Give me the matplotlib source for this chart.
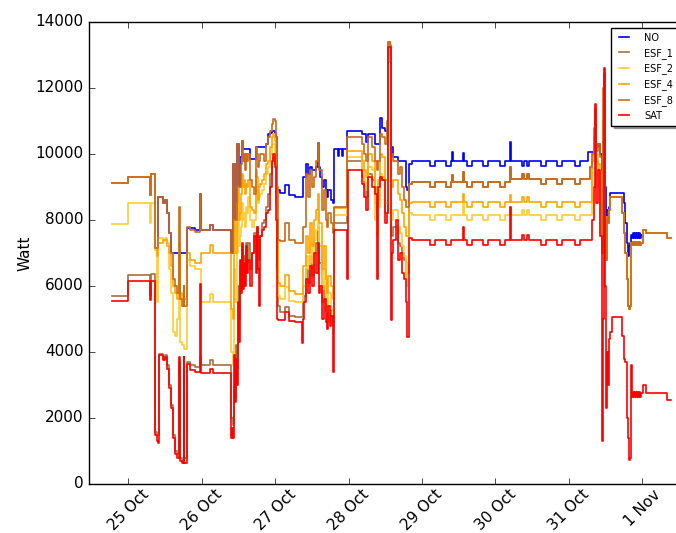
from datetime import datetime

import numpy as np
import matplotlib
matplotlib.use("Agg")
import matplotlib.dates as mdates
from matplotlib import pyplot as plt

# hours after 25 Oct 00:00, each value holds until the next time stamp
hours = [
    -5.4, -0.2, 7.0, 7.3, 8.8, 9.2, 9.7, 10.1, 11.3, 11.9,
    12.6, 13.2, 13.9, 14.6, 15.2, 15.9, 16.4, 16.7, 17.5, 18.0,
    18.3, 19.0, 20.1, 21.8, 23.4, 23.7, 26.5, 27.6, 33.4, 33.9,
    34.2, 34.5, 34.8, 35.2, 35.5, 35.8, 36.1, 36.5, 36.8, 37.1,
    37.4, 37.8, 38.1, 38.4, 38.8, 39.1, 39.7, 40.4, 41.0, 41.7,
    42.0, 42.4, 42.7, 43.0, 43.7, 44.3, 45.0, 45.6, 46.3, 46.9,
    47.4, 47.9, 48.2, 48.6, 48.9, 49.5, 51.2, 52.5, 54.5, 56.7,
    57.1, 57.4, 58.0, 58.7, 59.4, 60.0, 60.7, 61.3, 62.0, 62.3,
    62.6, 63.3, 63.9, 64.6, 64.9, 65.2, 65.9, 66.2, 66.9, 67.2,
    68.5, 68.8, 69.8, 70.1, 71.6, 71.9, 76.4, 77.0, 77.7, 78.3,
    79.6, 80.6, 81.3, 81.6, 82.2, 82.9, 83.9, 84.5, 85.0, 85.5,
    85.8, 86.2, 86.5, 87.5, 88.1, 88.8, 89.4, 90.1, 90.6, 91.1,
    91.6, 92.7, 98.5, 100.1, 103.8, 105.3, 105.8, 106.0, 109.4, 109.6,
    110.7, 112.2, 115.9, 117.4, 121.5, 123.0, 124.8, 125.0, 128.7, 129.3,
    130.3, 131.0, 135.0, 136.5, 140.1, 141.6, 146.0, 147.5, 150.3, 150.9,
    151.6, 152.1, 152.4, 152.9, 153.5, 154.2, 154.7, 155.2, 155.5, 155.8,
    156.2, 156.5, 156.8, 157.1, 157.5, 158.1, 160.7, 161.4, 161.9, 162.4,
    162.9, 163.3, 163.7, 164.0, 164.3, 164.7, 165.0, 165.3, 165.6, 166.0,
    166.3, 166.6, 167.0, 167.3, 167.6, 168.1, 169.2, 176.1, 177.4,
]

no_flex = [
    9120, 9310, 8760, 9380, 7150, 7150, 8700, 8700, 8500, 8600,
    8200, 7600, 7000, 7000, 7000, 7000, 7000, 7000, 7000, 7000,
    7000, 7750, 7750, 7700, 8800, 7700, 7850, 7700, 7000, 7000,
    9700, 9700, 8000, 8000, 10300, 10300, 9000, 9900, 9900, 10400,
    10150, 10150, 10150, 10150, 10150, 10150, 9850, 9850, 9850, 10200,
    10200, 10200, 10200, 10200, 10200, 10200, 10300, 10600, 10650, 10700,
    10700, 10650, 10500, 8900, 8900, 8820, 9060, 8750, 8700, 8700,
    9300, 9300, 9700, 9400, 9600, 9500, 9500, 9600, 10330, 9600,
    9300, 9000, 9200, 8900, 8700, 8900, 8900, 8600, 8500, 10150,
    9950, 10150, 9950, 10150, 10700, 10700, 10600, 10600, 10350, 10600,
    10600, 10300, 10300, 10300, 11100, 10800, 10700, 10700, 13400, 13000,
    10200, 10200, 9900, 9900, 9800, 9800, 9800, 9800, 9000, 8900,
    9700, 9800, 9650, 9800, 9650, 9800, 10050, 9800, 10030, 9800,
    9650, 9800, 9650, 9800, 9650, 9800, 10360, 9800, 9650, 9800,
    9650, 9800, 9650, 9800, 9650, 9800, 9650, 9800, 10050, 10050,
    10050, 10500, 11300, 10200, 10300, 10000, 9500, 10500, 12400, 9000,
    8000, 8300, 8300, 8400, 8820, 8820, 8820, 8820, 8500, 7900,
    7300, 6900, 7200, 7300, 7550, 7450, 7600, 7450, 7600, 7450,
    7600, 7450, 7600, 7450, 7550, 7700, 7600, 7450, 7450,
]

esf_1 = [
    5700, 6330, 5700, 6350, 1580, 1500, 1500, 3950, 3800, 3900,
    3600, 3000, 2400, 1500, 1000, 900, 3700, 800, 700, 3800,
    800, 3700, 3600, 3550, 3850, 3600, 3750, 3600, 2000, 2000,
    1800, 3000, 2600, 4200, 3500, 6000, 5000, 6600, 6000, 7200,
    6300, 6900, 6500, 7300, 6700, 7300, 6500, 7000, 7600, 7000,
    7800, 7400, 6800, 7500, 7900, 8000, 8400, 8800, 9400, 9800,
    9900, 9700, 8500, 6500, 5400, 5210, 5360, 5100, 5060, 5060,
    5500, 5700, 6500, 6100, 6900, 6300, 7000, 7300, 7800, 6700,
    6700, 5500, 6000, 5200, 4900, 5400, 5400, 5100, 4800, 7900,
    7900, 7900, 7900, 7900, 9800, 9800, 9300, 9000, 8700, 9400,
    9200, 8500, 8000, 8600, 9300, 9200, 8200, 8200, 13400, 12800,
    7500, 7500, 7800, 7800, 7300, 7200, 7000, 6800, 6400, 6400,
    9100, 9150, 9000, 9150, 9000, 9150, 9350, 9150, 9450, 9150,
    9000, 9150, 9000, 9150, 9000, 9150, 9600, 9250, 9400, 9250,
    9400, 9250, 9100, 9250, 9100, 9250, 9100, 9250, 9250, 9600,
    10000, 10500, 11000, 9800, 9200, 8000, 7000, 11000, 12400, 8000,
    6800, 8100, 7900, 8300, 8700, 8700, 8700, 8200, 7600, 7000,
    6200, 5400, 5300, 5400, 7300, 7240, 7330, 7240, 7330, 7240,
    7330, 7240, 7330, 7240, 7300, 7700, 7600, 7450, 7450,
]

esf_2 = [
    7880, 8500, 7900, 8500, 7100, 5500, 7450, 7450, 7350, 7450,
    7300, 6500, 5800, 4600, 4500, 5000, 7300, 4300, 4200, 4200,
    4100, 6800, 6600, 6500, 6500, 5500, 5750, 5500, 4000, 4000,
    3600, 6500, 5500, 5500, 7000, 8000, 7200, 7500, 7800, 8500,
    8000, 8200, 7800, 8400, 8200, 8700, 8000, 7800, 8000, 8900,
    8900, 8500, 8700, 8800, 8900, 9100, 9400, 9600, 10000, 10300,
    10300, 10000, 9000, 7500, 5700, 5600, 5970, 5550, 5510, 5510,
    6000, 6000, 6900, 6500, 7300, 6700, 7400, 7700, 8200, 7200,
    7200, 5900, 6500, 5500, 5200, 5800, 5800, 5300, 5100, 8150,
    8150, 8150, 8150, 8150, 9900, 9900, 9500, 9200, 8900, 9600,
    9500, 8000, 7500, 8400, 9400, 9300, 8500, 8500, 13400, 12800,
    8000, 8000, 8300, 8300, 7800, 7600, 7200, 6900, 6000, 6700,
    8200, 8150, 8000, 8150, 8000, 8150, 8150, 8150, 8500, 8150,
    8000, 8150, 8000, 8150, 8000, 8150, 8400, 8150, 8300, 8150,
    8300, 8150, 8000, 8150, 8000, 8150, 8000, 8150, 8150, 8150,
    10000, 10300, 10500, 10000, 9000, 7500, 7000, 10000, 12300, 8000,
    6800, 8100, 7900, 8300, 8700, 8700, 8700, 8200, 7600, 7000,
    6200, 5400, 5300, 5400, 7300, 7240, 7330, 7240, 7330, 7240,
    7330, 7240, 7330, 7240, 7300, 7700, 7600, 7450, 7450,
]

esf_4 = [
    9120, 9310, 8760, 9380, 7150, 6900, 7300, 7300, 7400, 7400,
    7200, 7000, 6600, 6000, 5800, 5600, 7000, 5800, 5600, 6000,
    5600, 7000, 6800, 6700, 6700, 7000, 7250, 7000, 5300, 5300,
    5000, 8000, 7000, 7000, 8500, 9000, 8000, 8200, 8800, 9400,
    9000, 9200, 8800, 9100, 9000, 9200, 8400, 8300, 8200, 9500,
    9300, 8600, 9000, 9100, 9200, 9400, 9700, 9800, 10200, 10500,
    10600, 10400, 9500, 8000, 6100, 6000, 6330, 5850, 5760, 5760,
    6600, 6600, 7500, 7000, 7900, 7200, 8000, 8300, 8800, 7900,
    7900, 6500, 7200, 6200, 5800, 6300, 6300, 6000, 5600, 8350,
    8350, 8350, 8350, 8350, 10100, 10100, 9800, 9500, 9300, 10000,
    9800, 9000, 8500, 9200, 10000, 9900, 9200, 9200, 13400, 13000,
    9000, 9000, 9200, 9200, 8800, 8600, 8200, 7800, 7500, 7500,
    8500, 8550, 8400, 8550, 8400, 8550, 8550, 8550, 8800, 8550,
    8400, 8550, 8400, 8550, 8400, 8550, 8750, 8550, 8700, 8550,
    8700, 8550, 8400, 8550, 8400, 8550, 8400, 8550, 8550, 8550,
    9800, 10500, 11000, 9800, 9700, 8500, 7000, 11000, 12400, 8000,
    6800, 8100, 7900, 8300, 8700, 8700, 8700, 8200, 7600, 7000,
    6200, 5400, 5300, 5400, 7300, 7240, 7330, 7240, 7330, 7240,
    7330, 7240, 7330, 7240, 7300, 7700, 7600, 7450, 7450,
]

esf_8 = [
    9120, 9310, 8760, 9380, 7150, 7150, 8700, 8700, 8500, 8600,
    8200, 7600, 7000, 6200, 6000, 5800, 8400, 5600, 5400, 6000,
    5400, 7800, 7700, 7650, 8800, 7700, 7850, 7700, 7000, 7000,
    9700, 9700, 8000, 8000, 10300, 10300, 9000, 9000, 9700, 10400,
    9800, 10000, 9500, 10000, 9800, 10000, 9200, 9000, 8800, 10200,
    10000, 9600, 9800, 10000, 10000, 9800, 10300, 10500, 10700, 10900,
    11050, 11000, 10500, 9000, 7400, 7360, 7900, 7400, 7300, 7300,
    7800, 7800, 9400, 8700, 9500, 9000, 9300, 9800, 10330, 9500,
    9500, 8300, 8900, 8000, 7800, 8200, 8200, 7900, 7600, 8400,
    8400, 8400, 8400, 8400, 10500, 10500, 10300, 10000, 9800, 10500,
    10200, 9800, 9500, 9800, 10600, 10500, 10300, 11000, 13400, 13300,
    10000, 10000, 9800, 9800, 9400, 9600, 9000, 8600, 8400, 8400,
    9100, 9150, 9000, 9150, 9000, 9150, 9350, 9150, 9450, 9150,
    9000, 9150, 9000, 9150, 9000, 9150, 9600, 9250, 9400, 9250,
    9400, 9250, 9100, 9250, 9100, 9250, 9100, 9250, 9250, 9600,
    10000, 10800, 11390, 10100, 10300, 9900, 7000, 12000, 12450, 8000,
    6800, 8100, 7900, 8300, 8700, 8700, 8700, 8200, 7600, 7000,
    6200, 5400, 5300, 5400, 7300, 7240, 7330, 7240, 7330, 7240,
    7330, 7240, 7330, 7240, 7300, 7700, 7600, 7450, 7450,
]

sat = [
    5550, 6150, 5570, 6150, 1480, 1300, 1250, 3900, 3750, 3850,
    3500, 2900, 2300, 1400, 900, 800, 3850, 700, 650, 3850,
    650, 3650, 3450, 3400, 6050, 3350, 3500, 3350, 1400, 1700,
    1400, 3900, 2500, 3800, 3000, 5500, 4300, 6800, 5800, 7300,
    5900, 6700, 6000, 7200, 6400, 6800, 6000, 7000, 7500, 6400,
    7800, 6500, 5400, 7500, 7700, 7800, 8200, 8300, 9000, 9800,
    10000, 9600, 8000, 5000, 4970, 4970, 5210, 4950, 4900, 4270,
    5000, 5500, 6200, 5800, 6600, 6000, 7000, 6400, 7300, 5800,
    6000, 5000, 5600, 4900, 4700, 5400, 4800, 5100, 3400, 7700,
    7700, 7700, 7700, 7700, 6200, 9500, 9100, 8700, 8300, 9300,
    9000, 8800, 6200, 9000, 9300, 9200, 7900, 8200, 13250, 13250,
    4970, 7000, 7400, 8000, 6800, 7000, 6400, 6200, 5500, 4450,
    7450, 7400, 7250, 7400, 7250, 7400, 7400, 7400, 7800, 7400,
    7250, 7400, 7250, 7400, 7250, 7400, 8400, 7400, 7550, 7400,
    7550, 7400, 7250, 7400, 7250, 7400, 7250, 7400, 7400, 7400,
    8000, 9000, 11500, 8500, 9500, 7500, 1300, 5000, 12600, 6000,
    2300, 4000, 3000, 4400, 4600, 5060, 5060, 4500, 3800, 3700,
    2000, 1400, 730, 800, 3600, 2650, 2800, 2650, 2800, 2650,
    2800, 2650, 2800, 2650, 2750, 3000, 2760, 2550, 2550,
]

series_names = ["NO", "ESF_1", "ESF_2", "ESF_4", "ESF_8", "SAT"]
series_colors = ["#0000ff", "#a5703f", "#ffcc33", "#ffa500", "#cc6a1a", "#ff0000"]
day_labels = ["25 Oct", "26 Oct", "27 Oct", "28 Oct", "29 Oct", "30 Oct", "31 Oct", "1 Nov"]

plt.style.use("classic")
plt.rcParams["figure.facecolor"] = "white"
plt.rcParams["savefig.facecolor"] = "white"

base = mdates.date2num(datetime(2015, 10, 25))
t = base + np.array(hours) / 24.0

fig = plt.figure(figsize=(6.76, 5.33), dpi=100)
ax = fig.add_axes([89 / 676, 49 / 533, 601 / 676, 462 / 533])

for name, color, values in zip(series_names, series_colors,
                               [no_flex, esf_1, esf_2, esf_4, esf_8, sat]):
    assert len(values) == len(hours), name
    ax.plot(t, values, color=color, lw=1.2, drawstyle="steps-post", label=name)

ax.set_xlim(base - 12.9 / 24, base + 183.6 / 24)
ax.set_ylim(0, 14000)
ax.set_yticks(np.arange(0, 14001, 2000))
ax.set_xticks(base + np.arange(len(day_labels)))
ax.set_xticklabels(day_labels, rotation=45)
ax.tick_params(labelsize=11)
ax.tick_params(axis="x", pad=2)
ax.set_ylabel("Watt", fontsize=11, labelpad=2)

leg = ax.legend(loc="upper left", bbox_to_anchor=(611 / 676, 1 - 28 / 533),
                bbox_transform=fig.transFigure, borderaxespad=0,
                fontsize=7, shadow=True, fancybox=False,
                handlelength=1.6, handletextpad=1.3, borderpad=0.5,
                labelspacing=0.5)
leg.get_frame().set_edgecolor("black")
leg.get_frame().set_linewidth(1.0)

fig.savefig("out.png", dpi=100)
